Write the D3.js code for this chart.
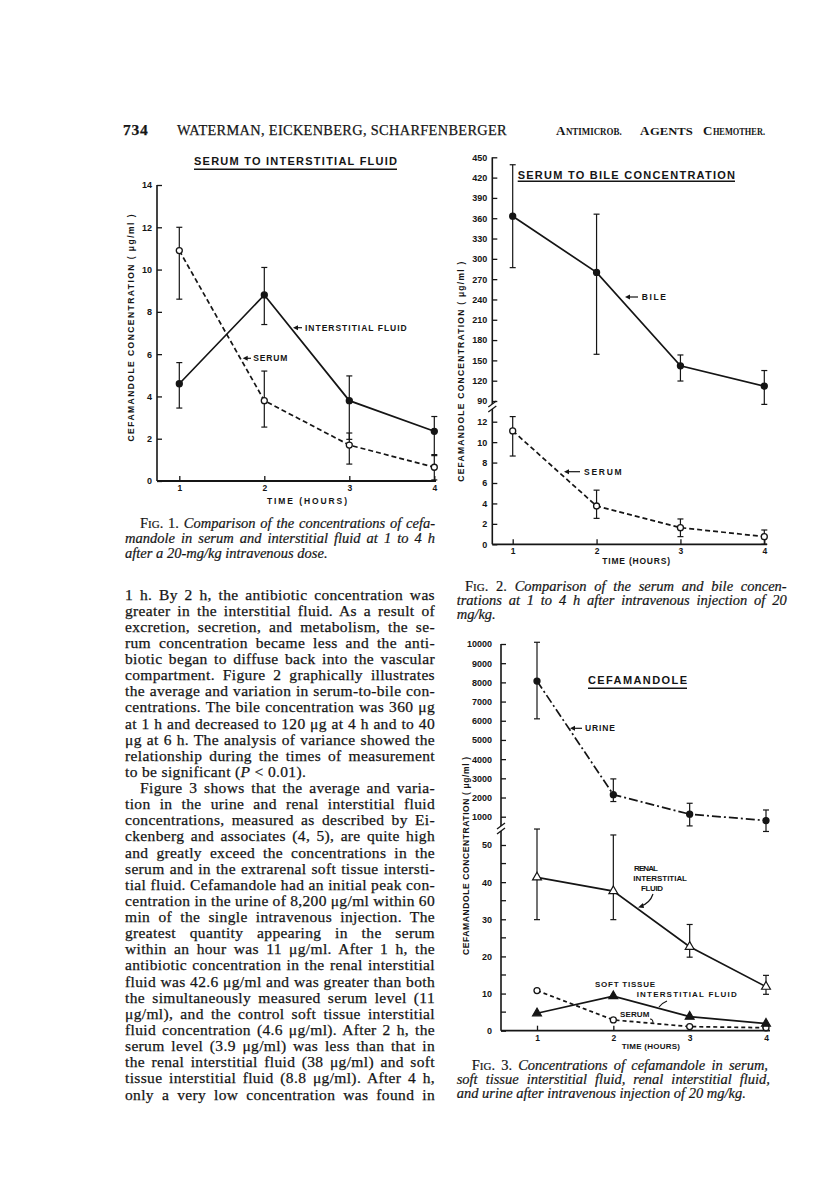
<!DOCTYPE html>
<html>
<head>
<meta charset="utf-8">
<script src="https://cdn.jsdelivr.net/npm/d3@7"></script>
<style>
  body { margin: 0; background: #fff; }
  text { fill: #151515; }
  .body { font-family: 'Liberation Serif', 'DejaVu Serif', serif; font-size: 15.5px; letter-spacing: 0.35px; stroke: #151515; stroke-width: 0.25px; }
  .head { font-family: 'Liberation Serif', 'DejaVu Serif', serif; font-weight: bold; }
  .cap { font-family: 'Liberation Serif', 'DejaVu Serif', serif; font-size: 14.5px; font-style: italic; stroke: #151515; stroke-width: 0.2px; }
  .lab { font-family: 'Liberation Sans', Arial, sans-serif; font-weight: bold; }
</style>
</head>
<body>
<svg id="page" width="816" height="1185"></svg>
<script>
// Time points shared by the three figures
const hours = [1, 2, 3, 4];

// Fig. 1: serum vs soft tissue interstitial fluid (ug/ml)
const fig1Ticks = [0, 2, 4, 6, 8, 10, 12, 14];
const fig1SerumMean = [10.9, 3.8, 1.7, 0.65];
const fig1SerumLow  = [8.6, 2.55, 0.8, 0.05];
const fig1SerumHigh = [12.0, 5.2, 2.27, 1.25];
const fig1FluidMean = [4.6, 8.8, 3.8, 2.35];
const fig1FluidLow  = [3.45, 7.4, 1.97, 1.2];
const fig1FluidHigh = [5.6, 10.1, 4.97, 3.05];

// Fig. 2: serum vs bile (broken axis)
const fig2BileTicks  = [90, 120, 150, 180, 210, 240, 270, 300, 330, 360, 390, 420, 450];
const fig2SerumTicks = [0, 2, 4, 6, 8, 10, 12];
const fig2BileMean  = [363, 280, 142, 112];
const fig2BileLow   = [287, 159, 119.5, 85];
const fig2BileHigh  = [439, 366, 158, 135];
const fig2SerumMean = [11.1, 3.75, 1.63, 0.75];
const fig2SerumLow  = [8.64, 2.54, 0.75, 0];
const fig2SerumHigh = [12.5, 5.3, 2.48, 1.4];

// Fig. 3: urine, renal fluid, soft tissue fluid, serum (broken axis)
const fig3UrineTicks = [1000, 2000, 3000, 4000, 5000, 6000, 7000, 8000, 9000, 10000];
const fig3LowTicks   = [0, 10, 20, 30, 40, 50];
const fig3MinorTicks = [5, 15, 25, 35, 45];
const fig3UrineMean = [8070, 2150, 1130, 800];
const fig3UrineLow  = [6100, 1790, 520, 230];
const fig3UrineHigh = [10090, 2970, 1700, 1350];
const fig3RenalMean = [41.3, 37.6, 22.6, 11.85];
const fig3RenalLow  = [29.9, 29.9, 19.8, 9.8];
const fig3RenalHigh = [54.3, 52.7, 28.6, 14.9];
const fig3SoftMean  = [4.7, 9.3, 3.8, 1.9];
const fig3SerumMean = [10.8, 2.9, 1.1, 0.8];

const ink = '#151515';
const svg = d3.select('#page');
svg.append('rect').attr('width', 816).attr('height', 1185).attr('fill', '#fff');

// ---------- chart helpers ----------
function yAxis(scale, ticks, x, y1, y2, pad) {
    const g = svg.append('g')
        .attr('transform', `translate(${x},0)`)
        .call(d3.axisLeft(scale).tickValues(ticks).tickSize(-5).tickPadding(pad).tickFormat(d => d));
    g.select('.domain').remove();
    g.attr('font-family', "'Liberation Sans', Arial, sans-serif").attr('font-size', 9).attr('font-weight', 'bold');
    g.selectAll('.tick line').attr('stroke', ink).attr('stroke-width', 1.3);
    g.selectAll('.tick text').attr('fill', ink);
    svg.append('line').attr('x1', x).attr('x2', x).attr('y1', y1).attr('y2', y2)
        .attr('stroke', ink).attr('stroke-width', 1.6);
}

function xAxis(scale, y, x1, x2) {
    const g = svg.append('g')
        .attr('transform', `translate(0,${y})`)
        .call(d3.axisBottom(scale).tickValues(hours).tickSize(-5).tickPadding(4).tickFormat(d => d));
    g.select('.domain').remove();
    g.attr('font-family', "'Liberation Sans', Arial, sans-serif").attr('font-size', 8.5).attr('font-weight', 'bold');
    g.selectAll('.tick line').attr('stroke', ink).attr('stroke-width', 1.3);
    g.selectAll('.tick text').attr('fill', ink);
    svg.append('line').attr('x1', x1).attr('x2', x2).attr('y1', y).attr('y2', y)
        .attr('stroke', ink).attr('stroke-width', 1.8);
}

function axisBreak(x, y) {
    [0, 5].forEach(off => {
        svg.append('line')
            .attr('x1', x - 4).attr('y1', y + off + 3)
            .attr('x2', x + 4).attr('y2', y + off - 3)
            .attr('stroke', ink).attr('stroke-width', 1.3);
    });
}

function errorBars(x, y, lo, hi) {
    const g = svg.append('g').attr('stroke', ink).attr('stroke-width', 1.2);
    hours.forEach((h, i) => {
        const cx = x(h);
        g.append('line').attr('x1', cx).attr('x2', cx).attr('y1', y(lo[i])).attr('y2', y(hi[i]));
        [lo[i], hi[i]].forEach(v => {
            g.append('line').attr('x1', cx - 3).attr('x2', cx + 3).attr('y1', y(v)).attr('y2', y(v));
        });
    });
}

function series(x, y, values, dash, marker) {
    svg.append('path')
        .datum(values)
        .attr('fill', 'none')
        .attr('stroke', ink)
        .attr('stroke-width', 1.7)
        .attr('stroke-dasharray', dash)
        .attr('d', d3.line().x((d, i) => x(hours[i])).y(d => y(d)));
    const g = svg.append('g');
    values.forEach((v, i) => {
        const cx = x(hours[i]), cy = y(v);
        if (marker === 'dot' || marker === 'ring') {
            g.append('circle').attr('cx', cx).attr('cy', cy).attr('r', 3)
                .attr('fill', marker === 'dot' ? ink : '#fff')
                .attr('stroke', ink).attr('stroke-width', 1.3);
        } else {
            g.append('path')
                .attr('transform', `translate(${cx},${cy})`)
                .attr('d', d3.symbol(d3.symbolTriangle, 34)())
                .attr('fill', marker === 'tri' ? ink : '#fff')
                .attr('stroke', ink).attr('stroke-width', 1.2);
        }
    });
}

function label(str, x1, x2, cy, size) {
    return svg.append('text').attr('class', 'lab')
        .attr('x', x1).attr('y', cy + size * 0.36)
        .attr('font-size', size)
        .attr('textLength', x2 - x1).attr('lengthAdjust', 'spacing')
        .text(str);
}

function title(str, x1, x2, cy, uy) {
    label(str, x1, x2, cy, 11);
    svg.append('line').attr('x1', x1).attr('x2', x2).attr('y1', uy).attr('y2', uy)
        .attr('stroke', ink).attr('stroke-width', 1.4);
}

function yLabel(cx, cy, len) {
    svg.append('text').attr('class', 'lab')
        .attr('transform', `translate(${cx + 3},${cy}) rotate(-90)`)
        .attr('text-anchor', 'middle').attr('font-size', 8.5)
        .attr('textLength', len).attr('lengthAdjust', 'spacing')
        .text('CEFAMANDOLE  CONCENTRATION ( \u03bcg/ml )');
}

function arrow(tip, tail, y) {
    svg.append('line').attr('x1', tip + 3).attr('x2', tail).attr('y1', y).attr('y2', y)
        .attr('stroke', ink).attr('stroke-width', 1.2);
    svg.append('path').attr('d', `M${tip},${y}L${tip + 5},${y - 2.5}L${tip + 5},${y + 2.5}Z`).attr('fill', ink);
}

// ---------- Fig. 1 ----------
const x1 = d3.scaleLinear().domain([1, 4]).range([179.3, 434.3]);
const y1 = d3.scaleLinear().domain([0, 14]).range([481, 185]);
title('SERUM TO INTERSTITIAL FLUID', 194, 397, 160.7, 169.3);
yAxis(y1, fig1Ticks, 157, 185, 481, 5);
xAxis(x1, 481, 157, 436);
yLabel(130.7, 328, 227);
label('TIME (HOURS)', 267, 347, 500.7, 8.5);
errorBars(x1, y1, fig1SerumLow, fig1SerumHigh);
errorBars(x1, y1, fig1FluidLow, fig1FluidHigh);
series(x1, y1, fig1SerumMean, '5,3', 'ring');
series(x1, y1, fig1FluidMean, null, 'dot');
arrow(293, 302, 327.7);
label('INTERSTITIAL FLUID', 305, 406.7, 327.7, 8.5);
arrow(242.7, 251, 358.3);
label('SERUM', 253.3, 287.3, 358.3, 8.5);

// ---------- Fig. 2 ----------
const x2 = d3.scaleLinear().domain([1, 4]).range([512.7, 764.3]);
const y2Bile = d3.scaleLinear().domain([90, 450]).range([401, 157.3]);
const y2Serum = d3.scaleLinear().domain([0, 12]).range([544.3, 421.7]);
title('SERUM TO BILE CONCENTRATION', 517.7, 735, 175, 181.3);
yAxis(y2Bile, fig2BileTicks, 492.3, 157.3, 404, 5);
yAxis(y2Serum, fig2SerumTicks, 492.3, 409, 544.3, 5);
axisBreak(492.3, 404);
xAxis(x2, 544.3, 492.3, 767);
yLabel(460.7, 371.7, 220);
label('TIME (HOURS)', 602.3, 670, 560.5, 8.5);
errorBars(x2, y2Bile, fig2BileLow, fig2BileHigh);
series(x2, y2Bile, fig2BileMean, null, 'dot');
errorBars(x2, y2Serum, fig2SerumLow, fig2SerumHigh);
series(x2, y2Serum, fig2SerumMean, '5,3', 'ring');
arrow(625, 638, 297);
label('BILE', 641.7, 666, 297, 8.5);
arrow(564, 580, 471.7);
label('SERUM', 584, 621.7, 471.7, 8.5);

// ---------- Fig. 3 ----------
const x3 = d3.scaleLinear().domain([1, 4]).range([537, 766]);
const y3Urine = d3.scaleLinear().domain([1000, 10000]).range([816.7, 644]);
const y3Low = d3.scaleLinear().domain([0, 50]).range([1030.7, 845]);
title('CEFAMANDOLE', 588, 687, 680, 688.3);
yAxis(y3Urine, fig3UrineTicks, 501, 644, 826, 9);
yAxis(y3Low, fig3LowTicks, 501, 831, 1030.7, 9);
svg.append('g').selectAll('line').data(fig3MinorTicks).join('line')
    .attr('x1', 501).attr('x2', 506)
    .attr('y1', d => y3Low(d)).attr('y2', d => y3Low(d))
    .attr('stroke', ink).attr('stroke-width', 1.3);
axisBreak(501, 826);
xAxis(x3, 1030.7, 501, 770);
yLabel(466, 856, 198);
label('TIME (HOURS)', 621.7, 680, 1046, 8);
errorBars(x3, y3Urine, fig3UrineLow, fig3UrineHigh);
series(x3, y3Urine, fig3UrineMean, '9,3,2,3', 'dot');
errorBars(x3, y3Low, fig3RenalLow, fig3RenalHigh);
series(x3, y3Low, fig3RenalMean, null, 'otri');
series(x3, y3Low, fig3SerumMean, '4,3', 'ring');
series(x3, y3Low, fig3SoftMean, null, 'tri');
arrow(570, 582, 728.3);
label('URINE', 585, 615, 728.3, 8.5);
label('RENAL', 634, 658, 868.3, 8);
label('INTERSTITIAL', 633.3, 687, 878.3, 8);
label('FLUID', 641, 663, 887.7, 8);
svg.append('path').attr('d', 'M653,894 Q650,903 641,906').attr('fill', 'none').attr('stroke', ink).attr('stroke-width', 1.2);
svg.append('path').attr('d', 'M638,907.5 L643,903 L644,908 Z').attr('fill', ink);
label('SOFT  TISSUE', 595, 655, 984.3, 8);
label('INTERSTITIAL FLUID', 636.7, 736.7, 994, 8);
svg.append('path').attr('d', 'M667,1001 Q662,1003 659,1007').attr('fill', 'none').attr('stroke', ink).attr('stroke-width', 1.2);
label('SERUM', 620, 649.3, 1014.3, 8);
svg.append('path').attr('d', 'M650,1019 Q653,1019 653,1023').attr('fill', 'none').attr('stroke', ink).attr('stroke-width', 1.1);

// ---------- running head ----------
svg.append('text').attr('class', 'body').attr('x', 123).attr('y', 135)
    .attr('font-weight', 'bold').attr('textLength', 25).text('734');
svg.append('text').attr('class', 'body').attr('x', 177).attr('y', 135)
    .attr('textLength', 330).attr('lengthAdjust', 'spacingAndGlyphs')
    .text('WATERMAN, EICKENBERG, SCHARFENBERGER');
// journal name in small caps: a large initial, then the rest of the word smaller
[['Antimicrob.', 556, 621.7], ['Agents', 640, 692.7], ['Chemother.', 703, 765]].forEach(([w, a, b]) => {
    const first = svg.append('text').attr('class', 'head').attr('x', a).attr('y', 135)
        .attr('font-size', 13).text(w[0]);
    const w0 = first.node().getComputedTextLength();
    svg.append('text').attr('class', 'head').attr('x', a + w0 + 0.5).attr('y', 135)
        .attr('font-size', 9.5)
        .attr('textLength', b - a - w0 - 0.5).attr('lengthAdjust', 'spacingAndGlyphs')
        .text(w.slice(1).toUpperCase());
});

// ---------- text blocks ----------
function textLine(str, x, y, width, cls, lead) {
    const t = svg.append('text').attr('class', cls).attr('x', x).attr('y', y);
    if (lead) {
        t.append('tspan').attr('font-style', 'normal').text('F');
        t.append('tspan').attr('font-style', 'normal').attr('font-size', '11px').text('IG');
        t.append('tspan').attr('font-style', 'normal').text(`. ${lead}. `);
    }
    str.split('*').forEach((part, i) => {
        if (!part) return;
        const s = t.append('tspan').text(part);
        if (i % 2) s.attr('font-style', cls === 'cap' ? 'normal' : 'italic');
    });
    if (width) {
        const natural = t.node().getComputedTextLength();
        const full = (lead ? `Fig. ${lead}. ` : '') + str;
        const gaps = (full.match(/ /g) || []).length;
        if (gaps) t.attr('word-spacing', (width - natural) / gaps);
    }
    return t;
}

// Fig. 1 caption
textLine('Comparison of the concentrations of cefa-', 140, 528, 295, 'cap', '1');
textLine('mandole in serum and interstitial fluid at 1 to 4 h', 125, 543, 310, 'cap');
textLine('after a 20-mg/kg intravenous dose.', 125, 558, null, 'cap');

// Fig. 2 caption
textLine('Comparison of the serum and bile concen-', 465, 591, 321.7, 'cap', '2');
textLine('trations at 1 to 4 h after intravenous injection of 20', 456.7, 605, 330, 'cap');
textLine('mg/kg.', 456.7, 619, null, 'cap');

// Fig. 3 caption
textLine('Concentrations of cefamandole in serum,', 471.7, 1069.5, 296.3, 'cap', '3');
textLine('soft tissue interstitial fluid, renal interstitial fluid,', 456.7, 1083.8, 313.3, 'cap');
textLine('and urine after intravenous injection of 20 mg/kg.', 456.7, 1097.8, null, 'cap');

// body column
const bodyLines = [
    '1 h. By 2 h, the antibiotic concentration was',
    'greater in the interstitial fluid. As a result of',
    'excretion, secretion, and metabolism, the se-',
    'rum concentration became less and the anti-',
    'biotic began to diffuse back into the vascular',
    'compartment. Figure 2 graphically illustrates',
    'the average and variation in serum-to-bile con-',
    'centrations. The bile concentration was 360 \u03bcg',
    'at 1 h and decreased to 120 \u03bcg at 4 h and to 40',
    '\u03bcg at 6 h. The analysis of variance showed the',
    'relationship during the times of measurement',
    'to be significant (*P* < 0.01).',
    'Figure 3 shows that the average and varia-',
    'tion in the urine and renal interstitial fluid',
    'concentrations, measured as described by Ei-',
    'ckenberg and associates (4, 5), are quite high',
    'and greatly exceed the concentrations in the',
    'serum and in the extrarenal soft tissue intersti-',
    'tial fluid. Cefamandole had an initial peak con-',
    'centration in the urine of 8,200 \u03bcg/ml within 60',
    'min of the single intravenous injection. The',
    'greatest quantity appearing in the serum',
    'within an hour was 11 \u03bcg/ml. After 1 h, the',
    'antibiotic concentration in the renal interstitial',
    'fluid was 42.6 \u03bcg/ml and was greater than both',
    'the simultaneously measured serum level (11',
    '\u03bcg/ml), and the control soft tissue interstitial',
    'fluid concentration (4.6 \u03bcg/ml). After 2 h, the',
    'serum level (3.9 \u03bcg/ml) was less than that in',
    'the renal interstitial fluid (38 \u03bcg/ml) and soft',
    'tissue interstitial fluid (8.8 \u03bcg/ml). After 4 h,',
    'only a very low concentration was found in'
];
bodyLines.forEach((line, i) => {
    const y = 599.5 + i * 16.13;
    if (i === 11) textLine(line, 125, y, null, 'body');
    else if (i === 12) textLine(line, 140, y, 295, 'body');
    else textLine(line, 125, y, 310, 'body');
});
</script>
</body>
</html>
